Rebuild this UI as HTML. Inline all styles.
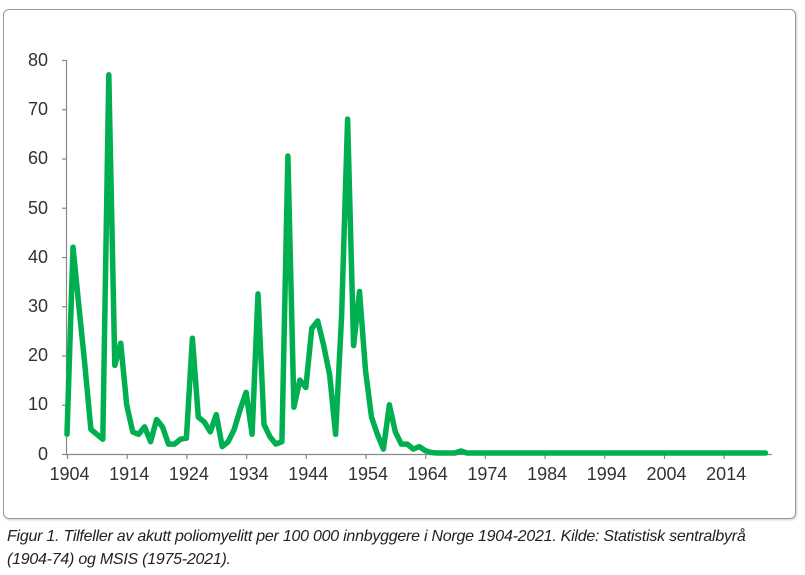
<!DOCTYPE html>
<html><head><meta charset="utf-8"><style>
body{margin:0;width:805px;height:575px;background:#fff;overflow:hidden;font-family:"Liberation Sans",Arial,sans-serif}
.box{position:absolute;left:3px;top:9px;width:793px;height:510px;border:1.5px solid #9a9a9a;border-radius:6px;box-sizing:border-box;box-shadow:1px 1px 2px #ccc}
.cap{position:absolute;left:7px;top:525px;font-style:italic;font-size:16px;line-height:23px;color:#222;letter-spacing:-0.25px}
</style></head><body>
<div class="box"></div>
<svg style="position:absolute;left:0;top:0" width="805" height="575">
<g stroke="#888" stroke-width="1.2" fill="none">
<line x1="66.5" y1="60" x2="66.5" y2="454"/>
<line x1="66" y1="454.5" x2="772" y2="454.5"/>
<g id="yt"></g>
</g>
<g font-size="18" fill="#333" text-anchor="end" font-family="Liberation Sans,Arial,sans-serif">
<text x="48" y="66">80</text><text x="48" y="115">70</text><text x="48" y="164">60</text><text x="48" y="214">50</text><text x="48" y="263">40</text><text x="48" y="312">30</text><text x="48" y="361">20</text><text x="48" y="410">10</text><text x="48" y="460">0</text>
</g>
</svg>
<div class="cap">Figur 1. Tilfeller av akutt poliomyelitt per 100 000 innbyggere i Norge 1904-2021. Kilde: Statistisk sentralbyrå<br>(1904-74) og MSIS (1975-2021).</div>
<script>
var d=[4,42,30,18,5,4,3,77,18,22.5,10,4.5,4,5.5,2.5,7,5.5,2,2,3,3.2,23.5,7.5,6.5,4.5,8,1.5,2.5,5,9,12.5,4,32.5,6,3.5,2,2.5,60.5,9.5,15,13.5,25.5,27,22,16,4,28,68,22,33,17,7.5,4,1,10,4.5,2,2,1,1.5,0.7,0.3,0.2,0.2,0.2,0.2,0.6];
while(d.length<118)d.push(0.2);
var ns="http://www.w3.org/2000/svg",s=document.querySelector("svg");
function X(i){return 67+i*5.97}function Y(v){return 454-v*4.925}
var p=d.map(function(v,i){return X(i).toFixed(1)+","+Y(v).toFixed(1)}).join(" ");
var pl=document.createElementNS(ns,"polyline");pl.setAttribute("points",p);pl.setAttribute("fill","none");pl.setAttribute("stroke","#00b050");pl.setAttribute("stroke-width","5.5");pl.setAttribute("stroke-linejoin","round");pl.setAttribute("stroke-linecap","round");s.appendChild(pl);
var yt=document.getElementById("yt");
for(var k=0;k<=8;k++){var l=document.createElementNS(ns,"line");var y=Y(k*10)+0.5;l.setAttribute("x1",62);l.setAttribute("x2",67);l.setAttribute("y1",y);l.setAttribute("y2",y);yt.appendChild(l);}
for(var k=0;k<=11;k++){var x=X(k*10)+0.5;var l=document.createElementNS(ns,"line");l.setAttribute("x1",x);l.setAttribute("x2",x);l.setAttribute("y1",454);l.setAttribute("y2",459);yt.appendChild(l);
var t=document.createElementNS(ns,"text");t.setAttribute("x",x+2);t.setAttribute("y",480);t.setAttribute("text-anchor","middle");t.setAttribute("font-size","18");t.setAttribute("fill","#333");t.textContent=1904+k*10;s.appendChild(t);}
</script>
</body></html>
